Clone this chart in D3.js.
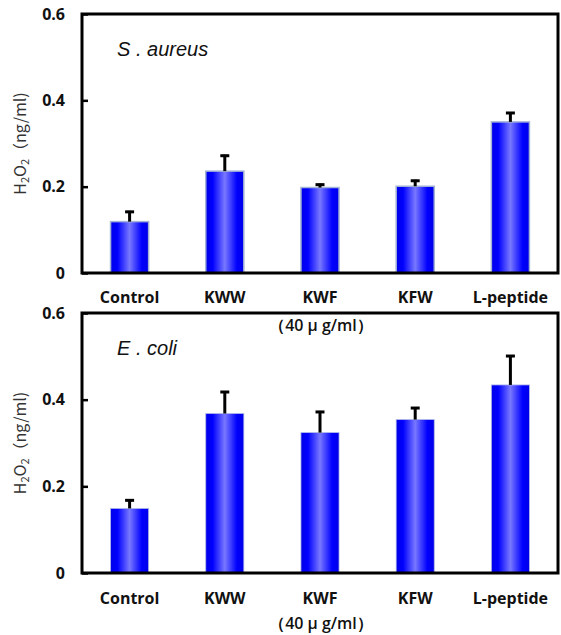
<!DOCTYPE html>
<html><head><meta charset="utf-8">
<script src="https://cdnjs.cloudflare.com/ajax/libs/d3/7.8.5/d3.min.js"></script>
<style>body{margin:0;background:#fff}</style>
</head><body>
<svg id="c" width="561" height="635"></svg>
<script>
const categories = ["Control","KWW","KWF","KFW","L-peptide"];
const saureusValues = [0.119, 0.236, 0.198, 0.201, 0.350];
const saureusErrors = [0.025, 0.038, 0.009, 0.015, 0.023];
const ecoliValues = [0.149, 0.368, 0.324, 0.354, 0.434];
const ecoliErrors = [0.021, 0.052, 0.050, 0.029, 0.069];
const yTicks = [0, 0.2, 0.4, 0.6];
const yTickLabels = ["0","0.2","0.4","0.6"];
const panelTitles = ["S . aureus","E . coli"];

const svg = d3.select("#c");
const defs = svg.append("defs");
const g = defs.append("linearGradient").attr("id","bg").attr("x1","0").attr("x2","1").attr("y1","0").attr("y2","0");
[[0,"#0000e8"],[0.18,"#0000ff"],[0.5,"#7878ff"],[0.82,"#0000ff"],[1,"#0000e8"]].forEach(s=>g.append("stop").attr("offset",s[0]).attr("stop-color",s[1]));

const panels = [
  {top:14, bottom:273, vals:saureusValues, errs:saureusErrors, title:panelTitles[0], stroke:"#a3b3d6", sw:1.5, labelY:303, unitY:331},
  {top:313, bottom:573, vals:ecoliValues, errs:ecoliErrors, title:panelTitles[1], stroke:"#b0b8e8", sw:0.8, labelY:604, unitY:629}
];
const left = 82, right = 558;

panels.forEach(p=>{
  const x = d3.scaleBand().domain(categories).range([left,right]).paddingInner(0.6).paddingOuter(0.3);
  const y = d3.scaleLinear().domain([0,0.6]).range([p.bottom,p.top]);
  const G = svg.append("g");
  G.selectAll("rect.bar").data(categories).join("rect").attr("class","bar")
    .attr("x",d=>x(d)).attr("width",x.bandwidth())
    .attr("y",(d,i)=>y(p.vals[i])).attr("height",(d,i)=>y(0)-y(p.vals[i]))
    .attr("fill","url(#bg)").attr("stroke",p.stroke).attr("stroke-width",p.sw);
  categories.forEach((c,i)=>{
    const cx = x(c)+x.bandwidth()/2;
    G.append("line").attr("x1",cx).attr("x2",cx).attr("y1",y(p.vals[i])).attr("y2",y(p.vals[i]+p.errs[i]))
      .attr("stroke","#000").attr("stroke-width",3);
    G.append("line").attr("x1",cx-4.5).attr("x2",cx+4.5).attr("y1",y(p.vals[i]+p.errs[i])+1).attr("y2",y(p.vals[i]+p.errs[i])+1)
      .attr("stroke","#000").attr("stroke-width",3);
  });
  G.append("rect").attr("x",left).attr("y",p.top).attr("width",right-left).attr("height",p.bottom-p.top)
    .attr("fill","none").attr("stroke","#000").attr("stroke-width",3);
  const ax = G.append("g").attr("transform",`translate(${left},0)`)
    .call(d3.axisLeft(y).tickValues(yTicks).tickFormat((d,i)=>yTickLabels[i]).tickSizeInner(-6).tickSizeOuter(0).tickPadding(17));
  ax.select(".domain").remove();
  ax.selectAll(".tick line").attr("stroke","#000").attr("stroke-width",2.5);
  ax.selectAll(".tick text").attr("font-family","'Open Sans', sans-serif").attr("font-weight","bold").attr("font-size",16).attr("fill","#111");
  G.selectAll("text.cat").data(categories).join("text").attr("class","cat")
    .attr("x",d=>x(d)+x.bandwidth()/2).attr("y",p.labelY).attr("text-anchor","middle")
    .attr("font-family","'Open Sans', sans-serif").attr("font-weight","bold").attr("font-size",16).attr("fill","#111").text(d=>d);
  G.append("text").attr("x",321).attr("y",p.unitY).attr("text-anchor","middle")
    .attr("font-family","'Open Sans', sans-serif").attr("font-size",16).attr("font-weight","600").attr("fill","#111").text("（40 μ g/ml）");
  G.append("text").attr("x",117).attr("y",p.top+42).attr("font-family","'Liberation Sans', sans-serif")
    .attr("font-style","italic").attr("font-size",20).attr("fill","#111").text(p.title);
  const cy = (p.top+p.bottom)/2;
  const t = G.append("text").attr("transform",`translate(26,${cy}) rotate(-90)`).attr("text-anchor","middle")
    .attr("font-family","'Noto Sans CJK JP', sans-serif").attr("font-size",16).attr("fill","#333");
  t.append("tspan").text("H");
  t.append("tspan").attr("font-size",11).attr("dy",3).text("2");
  t.append("tspan").attr("dy",-3).text("O");
  t.append("tspan").attr("font-size",11).attr("dy",3).text("2");
  t.append("tspan").attr("dy",-3).text("（ng/ml)");
});
</script>
</body></html>
